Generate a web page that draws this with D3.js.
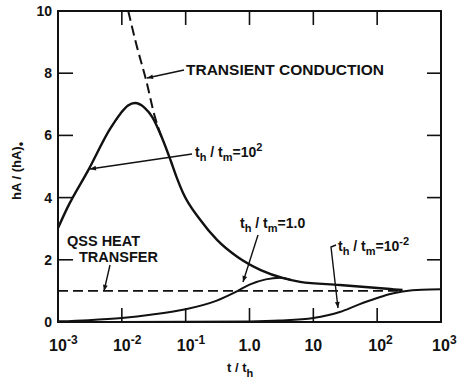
<!DOCTYPE html>
<html>
<head>
<meta charset="utf-8">
<script src="https://cdn.jsdelivr.net/npm/d3@7"></script>
<style>
  body { margin: 0; background: #fff; }
  svg text { font-family: "Liberation Sans", Arial, sans-serif; font-weight: bold; fill: #111; }
</style>
</head>
<body>
<div id="drawing"></div>
<script>
"use strict"

/**** Data ****/
// t/th values and hA/(hA)o values
let tHigh = [0.001, 0.0014, 0.003, 0.0065, 0.0095, 0.0125, 0.016, 0.023, 0.030, 0.043, 0.058, 0.072, 0.091, 0.17, 0.31, 0.65, 1.5, 3.4, 6.2, 26, 160, 250]
let vHigh = [3.02, 3.67, 4.89, 6.20, 6.70, 6.96, 7.04, 6.88, 6.59, 5.90, 5.20, 4.66, 4.15, 3.28, 2.64, 2.09, 1.67, 1.41, 1.29, 1.19, 1.06, 1.03]

let tOne = [0.001, 0.003, 0.01, 0.03, 0.1, 0.3, 0.6, 1.0, 1.8, 3.0, 4.5]
let vOne = [0.02, 0.06, 0.13, 0.24, 0.41, 0.68, 0.96, 1.20, 1.37, 1.42, 1.35]

let tLow = [0.001, 0.1, 1, 3, 10, 26, 50, 100, 160, 250, 500, 1000]
let vLow = [0.0, 0.005, 0.02, 0.05, 0.13, 0.32, 0.55, 0.77, 0.90, 0.98, 1.04, 1.05]

let tTransient = [0.0126, 0.017, 0.024, 0.033, 0.043]
let vTransient = [10.0, 8.9, 7.78, 6.59, 5.90]

let tQss = [0.001, 230]
let vQss = [1, 1]

let xTicks = [0.001, 0.01, 0.1, 1, 10, 100, 1000]
let xTickBase = ["10", "10", "10", "1.0", "10", "10", "10"]
let xTickSup = ["-3", "-2", "-1", "", "", "2", "3"]
let yTicks = [0, 2, 4, 6, 8, 10]

/**** Canvas ****/
let svgWidth = 457
let svgHeight = 383
let leftEdge = 58, rightEdge = 441, topEdge = 11, bottomEdge = 322
let tickLen = 14

let svg = d3.select("#drawing").append("svg")
  .attr("width", svgWidth)
  .attr("height", svgHeight)

let defs = svg.append("defs")
defs.append("marker")
  .attr("id", "arrow")
  .attr("viewBox", "0 0 10 10")
  .attr("refX", 10).attr("refY", 5)
  .attr("markerWidth", 9).attr("markerHeight", 6)
  .attr("markerUnits", "userSpaceOnUse")
  .attr("orient", "auto")
  .append("path")
  .attr("d", "M0,1 L10,5 L0,9 Z")
  .attr("fill", "#111")

/**** Scales ****/
let xScale = d3.scaleLog().domain([0.001, 1000]).range([leftEdge, rightEdge])
let yScale = d3.scaleLinear().domain([0, 10]).range([bottomEdge, topEdge])

/**** Ticks (pointing inward on all four sides) ****/
let ticks = svg.append("g").attr("stroke", "#111").attr("stroke-width", 1.6)

xTicks.forEach(function(t) {
  ticks.append("line")
    .attr("x1", xScale(t)).attr("x2", xScale(t))
    .attr("y1", bottomEdge).attr("y2", bottomEdge - tickLen)
  ticks.append("line")
    .attr("x1", xScale(t)).attr("x2", xScale(t))
    .attr("y1", topEdge).attr("y2", topEdge + tickLen)
})

yTicks.forEach(function(v) {
  ticks.append("line")
    .attr("x1", leftEdge).attr("x2", leftEdge + tickLen + 1)
    .attr("y1", yScale(v)).attr("y2", yScale(v))
  ticks.append("line")
    .attr("x1", rightEdge).attr("x2", rightEdge - tickLen)
    .attr("y1", yScale(v)).attr("y2", yScale(v))

  svg.append("text")
    .attr("x", leftEdge - 6)
    .attr("y", yScale(v))
    .attr("dy", "0.36em")
    .attr("text-anchor", "end")
    .style("font-size", "14px")
    .text(v)
})

/* frame */
svg.append("rect")
  .attr("x", leftEdge).attr("y", topEdge)
  .attr("width", rightEdge - leftEdge).attr("height", bottomEdge - topEdge)
  .attr("fill", "none").attr("stroke", "#111").attr("stroke-width", 2)

/* x tick labels with superscripts */
xTicks.forEach(function(t, i) {
  let base = svg.append("text")
    .attr("x", xScale(t))
    .attr("y", 351)
    .attr("text-anchor", "middle")
    .style("font-size", "16px")
    .text(xTickBase[i])
  if (xTickSup[i] !== "") {
    let w = base.node().getComputedTextLength()
    svg.append("text")
      .attr("x", xScale(t) + w / 2)
      .attr("y", 344)
      .style("font-size", "12px")
      .text(xTickSup[i])
  }
})

/* axis titles */
let xt = svg.append("text").attr("x", 227).attr("y", 372).style("font-size", "13px")
xt.append("tspan").text("t / t")
xt.append("tspan").attr("dy", 5).style("font-size", "11px").text("h")

let yt = svg.append("text")
  .attr("transform", "translate(21,200) rotate(-90)")
  .style("font-size", "13px")
yt.append("tspan").text("hA / (hA)")
yt.append("tspan").attr("dy", 4).style("font-size", "13px").text("•")

/**** Curves ****/
let line = d3.line()
  .x(d => xScale(d[0]))
  .y(d => yScale(d[1]))
  .curve(d3.curveMonotoneX)

function pairs(ts, vs) { return ts.map((t, i) => [t, vs[i]]) }

let plot = svg.append("g")

plot.append("path")
  .attr("d", line(pairs(tQss, vQss)))
  .attr("fill", "none").attr("stroke", "#111").attr("stroke-width", 1.8)
  .attr("stroke-dasharray", "10,5")

plot.append("path")
  .attr("d", line(pairs(tTransient, vTransient)))
  .attr("fill", "none").attr("stroke", "#111").attr("stroke-width", 2)
  .attr("stroke-dasharray", "10,5")

plot.append("path")
  .attr("d", line(pairs(tHigh, vHigh)))
  .attr("fill", "none").attr("stroke", "#111").attr("stroke-width", 2.4)

plot.append("path")
  .attr("d", line(pairs(tOne, vOne)))
  .attr("fill", "none").attr("stroke", "#111").attr("stroke-width", 2)

plot.append("path")
  .attr("d", line(pairs(tLow, vLow)))
  .attr("fill", "none").attr("stroke", "#111").attr("stroke-width", 2)

/**** Annotations ****/
function leader(points) {
  svg.append("path")
    .attr("d", d3.line()(points))
    .attr("fill", "none").attr("stroke", "#111").attr("stroke-width", 1.4)
    .attr("marker-end", "url(#arrow)")
}

svg.append("text").attr("x", 186).attr("y", 75).style("font-size", "15.5px").text("TRANSIENT CONDUCTION")
leader([[184, 70], [147, 78]])

svg.append("text").attr("x", 67).attr("y", 246).style("font-size", "14.5px").text("QSS HEAT")
svg.append("text").attr("x", 79).attr("y", 262).style("font-size", "14.5px").text("TRANSFER")
leader([[110, 265], [104, 291]])

function ratioLabel(x, y, value, sup) {
  let t = svg.append("text").attr("x", x).attr("y", y).style("font-size", "14px")
  t.append("tspan").text("t")
  t.append("tspan").attr("dy", 4).style("font-size", "11px").text("h")
  t.append("tspan").attr("dy", -4).text(" / t")
  t.append("tspan").attr("dy", 4).style("font-size", "11px").text("m")
  t.append("tspan").attr("dy", -4).text("=" + value)
  if (sup) t.append("tspan").attr("dy", -6).style("font-size", "11px").text(sup)
}

ratioLabel(195, 157, "10", "2")
leader([[192, 154], [90, 169]])

ratioLabel(240, 228, "1.0", null)
leader([[258, 235], [243, 282]])

ratioLabel(338, 251, "10", "-2")
svg.append("path")
  .attr("d", d3.line()([[336, 245], [331, 247], [338, 308]]))
  .attr("fill", "none").attr("stroke", "#111").attr("stroke-width", 1.4)
  .attr("marker-end", "url(#arrow)")
</script>
</body>
</html>
